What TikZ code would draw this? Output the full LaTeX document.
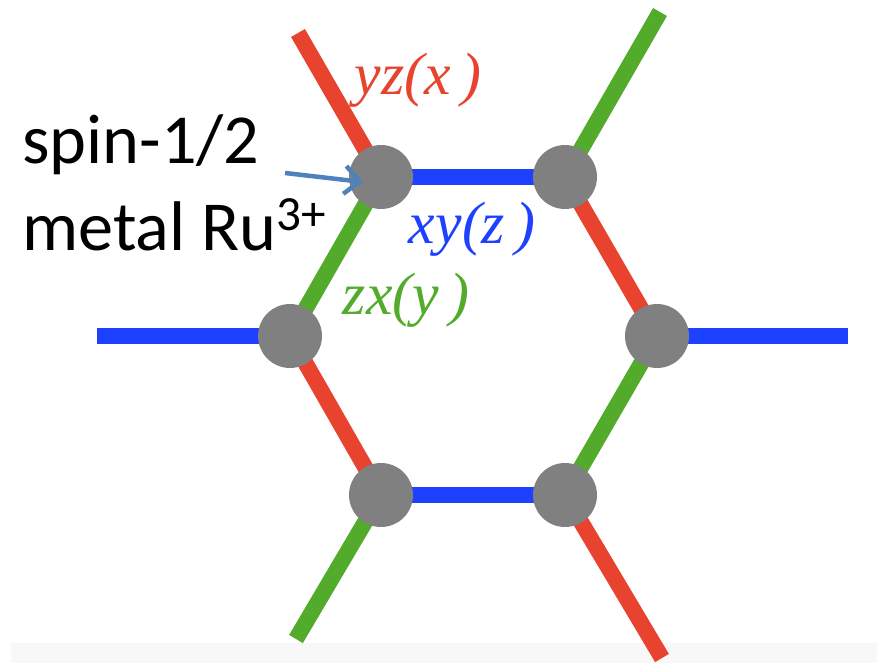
\documentclass[tikz,border=0pt]{standalone}
\usepackage{fontspec}
\setmainfont{Liberation Serif}
\newfontfamily\calibri{Carlito}
\newfontfamily\timesit{Liberation Serif}
\usetikzlibrary{arrows.meta,backgrounds,calc}
\definecolor{bondx}{RGB}{232,67,46}
\definecolor{bondy}{RGB}{82,171,42}
\definecolor{bondz}{RGB}{30,64,255}
\definecolor{ion}{RGB}{128,128,128}
\definecolor{pointer}{RGB}{79,129,189}
\definecolor{strip}{RGB}{248,248,248}
\tikzset{
  bond/.style={draw=#1,line width=0.32cm},
  site/.style={circle,fill=ion,minimum size=1.28cm,inner sep=0pt},
  tag/.style={font=\timesit\fontsize{34}{36}\selectfont\itshape,text=#1},
  caption/.style={font=\calibri\fontsize{40}{44}\selectfont,anchor=base west,inner sep=0pt},
  marker/.style={-{Straight Barb[length=3mm,width=5.6mm]},draw=pointer,line width=0.09cm},
}
\begin{document}
\begin{tikzpicture}[x=0.02cm,y=-0.02cm]
  \useasboundingbox (0,0) rectangle (877,663);
  % honeycomb sites
  \node[site] (a) at (381,177) {};
  \node[site] (b) at (565,177) {};
  \node[site] (c) at (657,336) {};
  \node[site] (d) at (565,495) {};
  \node[site] (e) at (381,495) {};
  \node[site] (f) at (290,336) {};
  % loose ends of the outer bonds
  \coordinate (a0) at (298,33);
  \coordinate (b0) at (660,12);
  \coordinate (c0) at (848,336);
  \coordinate (d0) at (662,658);
  \coordinate (e0) at (296,639);
  \coordinate (f0) at (97,336);
  \begin{scope}[on background layer]
    \fill[strip] (11,643) rectangle (877,663);
    \draw[bond=bondz] (a.center) -- (b.center);
    \draw[bond=bondz] (e.center) -- (d.center);
    \draw[bond=bondz] (f.center) -- (f0);
    \draw[bond=bondz] (c.center) -- (c0);
    \draw[bond=bondy] (a.center) -- (f.center);
    \draw[bond=bondy] (c.center) -- (d.center);
    \draw[bond=bondy] (b.center) -- (b0);
    \draw[bond=bondy] (e.center) -- (e0);
    \draw[bond=bondx] (b.center) -- (c.center);
    \draw[bond=bondx] (f.center) -- (e.center);
    \draw[bond=bondx] (a.center) -- (a0);
    \draw[bond=bondx] (d.center) -- (d0);
  \end{scope}
  % bond labels
  \node[tag=bondx] (lx) at (418,80) {yz(x\,)};
  \node[tag=bondz] (lz) at (472,229) {xy(z\,)};
  \node[tag=bondy] (ly) at (406,300) {zx(y\,)};
  % caption
  \node[caption] (spin) at (22,163) {spin-1/2};
  \node[caption] (metal) at (22,250) {metal Ru\raisebox{0.4cm}{\fontsize{28}{28}\selectfont 3+}};
  \coordinate (tail) at (285,173);
  \draw[marker] (tail) -- ($(a.center)+(-18,5)$);
\end{tikzpicture}
\end{document}
